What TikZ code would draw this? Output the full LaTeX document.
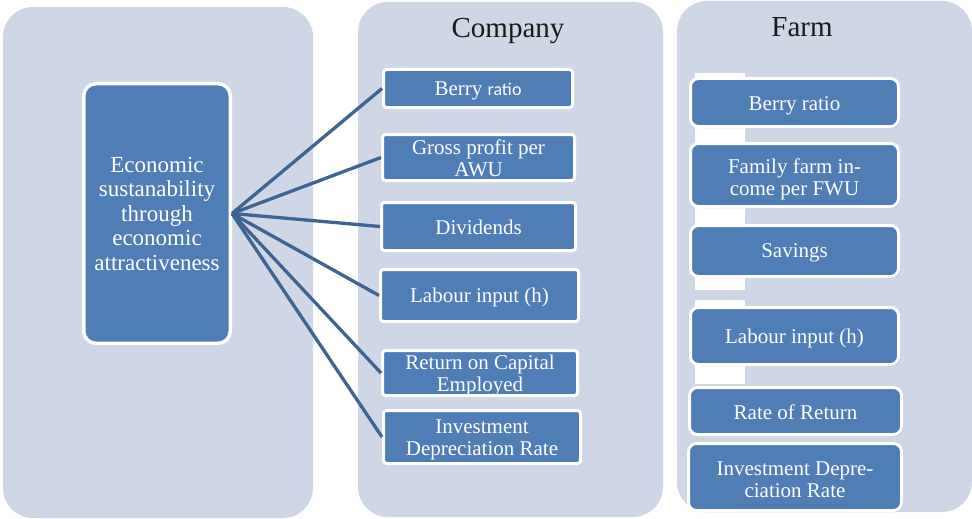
\documentclass[tikz,border=0pt]{standalone}
\usepackage{fontspec}
\setmainfont{Liberation Serif}
\newfontfamily\carlito{Carlito}
\usetikzlibrary{shadows}
\definecolor{panelbg}{HTML}{CFD6E5}
\definecolor{boxblue}{HTML}{4F7EB6}
\definecolor{linkblue}{HTML}{3E6494}
\definecolor{titlecol}{HTML}{1A1A1A}
\begin{document}
\begin{tikzpicture}[x=1pt,y=-1pt,
 panel/.style={fill=panelbg, rounded corners=30pt},
 cbox/.style={draw=white, line width=3pt, fill=boxblue, rounded corners=3pt, inner sep=0pt},
 fbox/.style={cbox, rounded corners=8pt, drop shadow={shadow xshift=1.5pt, shadow yshift=-1.5pt, opacity=0.35, fill=black!55}},
 tx/.style={text=white, align=center, inner sep=0pt, font=\fontsize{21}{22}\selectfont},
 mainbox/.style={cbox, line width=3.5pt, rounded corners=12pt, text=white, align=center, font=\fontsize{23}{24.5}\selectfont},
 link/.style={draw=linkblue, line width=3.3pt},
 title/.style={text=titlecol, font=\fontsize{29}{30}\selectfont, anchor=base, inner sep=0pt}]
\useasboundingbox (0,0) rectangle (972,519);
% panels
\fill[panel] (3,7) rectangle (313,518);
\fill[panel] (358,2) rectangle (663,517);
\fill[panel] (677,1) rectangle (972,512);
\fill[white] (695,73) rectangle (745,290);
\fill[white] (695,300) rectangle (745,384);
% titles
\node[title] (tcompany) at (508,38) {Company};
\node[title] (tfarm) at (802,37) {Farm};
% main node
\node[mainbox, minimum width=146.5pt, minimum height=259.5pt] (main) at (157,213.5)
  {Economic\\sustanability\\through\\economic\\attractiveness};
% company boxes
\node[cbox, minimum width=189pt, minimum height=38pt] (cb1) at (478,88.5) {};
\node[cbox, minimum width=192pt, minimum height=46pt] (cb2) at (478.5,157.5) {};
\node[cbox, minimum width=194pt, minimum height=48pt] (cb3) at (478.5,226.5) {};
\node[cbox, minimum width=198pt, minimum height=52pt] (cb4) at (479.5,295.5) {};
\node[cbox, minimum width=195pt, minimum height=45pt] (cb5) at (480,373) {};
\node[cbox, minimum width=197pt, minimum height=53pt] (cb6) at (482,437) {};
\node[tx] (cb1t) at ([yshift=-2pt]cb1.center) {Berry {\carlito\fontsize{18}{22}\selectfont ratio}};
\node[tx] (cb2t) at ([yshift=-1pt]cb2.center) {Gross profit per\\AWU};
\node[tx] (cb3t) at ([yshift=-1pt]cb3.center) {Dividends};
\node[tx] (cb4t) at ([yshift=-2pt]cb4.center) {Labour input (h)};
\node[tx] (cb5t) at ([yshift=-2pt]cb5.center) {Return on Capital\\Employed};
\node[tx] (cb6t) at ([yshift=-3pt]cb6.center) {Investment\\Depreciation Rate};
% farm boxes
\node[fbox, minimum width=208pt, minimum height=48pt] (fb1) at (794.5,102.5) {};
\node[fbox, minimum width=208pt, minimum height=63pt] (fb2) at (794.5,175) {};
\node[fbox, minimum width=208pt, minimum height=51pt] (fb3) at (794.5,251) {};
\node[fbox, minimum width=208pt, minimum height=57pt] (fb4) at (794.5,336) {};
\node[fbox, minimum width=212pt, minimum height=47pt] (fb5) at (795.5,411) {};
\node[fbox, minimum width=213pt, minimum height=67pt] (fb6) at (795,477) {};
\node[tx] (fb1t) at ([yshift=-3pt]fb1.center) {Berry ratio};
\node[tx] (fb2t) at ([yshift=-4.5pt]fb2.center) {Family farm in-\\come per FWU};
\node[tx] (fb3t) at ([yshift=-2pt]fb3.center) {Savings};
\node[tx] (fb4t) at ([yshift=-2pt]fb4.center) {Labour input (h)};
\node[tx] (fb5t) at ([yshift=-1pt]fb5.center) {Rate of Return};
\node[tx] (fb6t) at ([yshift=-2.5pt]fb6.center) {Investment Depre-\\ciation Rate};
% connectors
\foreach \b in {cb1,cb2,cb3,cb4,cb5,cb6}
  \draw[link] (main.east) -- (\b.west);
\end{tikzpicture}
\end{document}
